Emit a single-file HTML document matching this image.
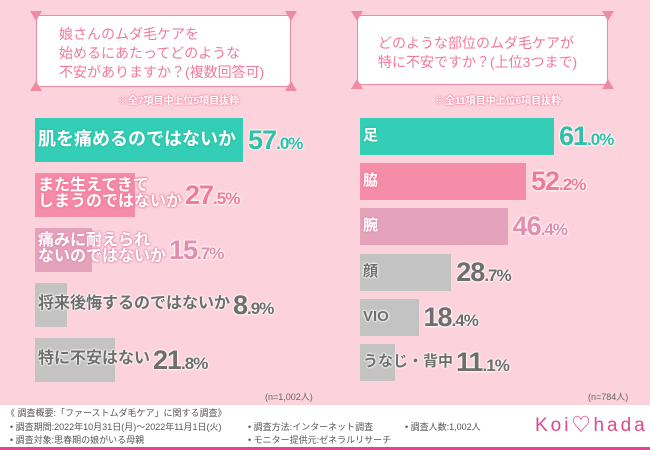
<!DOCTYPE html>
<html><head><meta charset="utf-8">
<style>
*{margin:0;padding:0;box-sizing:border-box}
body{width:650px;height:450px;overflow:hidden;background:#fcd3dc;font-family:"Liberation Sans","Noto Sans CJK JP",sans-serif;position:relative}
.abs{position:absolute}
.tbox{position:absolute;background:#fff;border:1.5px solid #f08aa4;color:#f07a99;font-size:14px;line-height:19px}
.tri{position:absolute;width:0;height:0}
.note{position:absolute;color:#fff;font-size:10px;font-weight:bold;text-shadow:0 0 2px #f08aa4,0 0 2px #f08aa4,0 0 1px #f08aa4}
.lab{position:absolute;font-weight:bold;white-space:nowrap;line-height:1}
.val{position:absolute;font-weight:bold;white-space:nowrap;line-height:1}
.ft{position:absolute;font-size:9px;color:#555;white-space:nowrap}
</style></head><body>
<div class="abs" style="left:0;top:405px;width:650px;height:45px;background:#fff"></div>
<div class="abs" style="left:0;top:447px;width:650px;height:3px;background:#e0478f"></div>

<div class="tbox" style="left:36px;top:15px;width:255px;height:72px;padding:9px 0 0 22px">娘さんのムダ毛ケアを<br>始めるにあたってどのような<br>不安がありますか？(複数回答可)</div>
<div class="tbox" style="left:357px;top:15px;width:251px;height:70px;padding:18px 0 0 20px;text-align:left">どのような部位のムダ毛ケアが<br>特に不安ですか？(上位3つまで)</div>
<div class="note" style="left:118px;top:92px">※全7項目中上位5項目抜粋</div>
<div class="note" style="left:435px;top:92px">※全11項目中上位6項目抜粋</div>
<div class="ft" style="left:265px;top:390px;color:#666">(n=1,002人)</div>
<div class="ft" style="left:588px;top:390px;color:#666">(n=784人)</div>

<div id="charts"></div>

<div class="ft" style="left:6px;top:406px">《 調査概要:「ファーストムダ毛ケア」に関する調査》</div>
<div class="ft" style="left:10px;top:420px">• 調査期間:2022年10月31日(月)～2022年11月1日(火)</div>
<div class="ft" style="left:10px;top:433px">• 調査対象:思春期の娘がいる母親</div>
<div class="ft" style="left:248px;top:420px">• 調査方法:インターネット調査</div>
<div class="ft" style="left:248px;top:433px">• モニター提供元:ゼネラルリサーチ</div>
<div class="ft" style="left:405px;top:420px">• 調査人数:1,002人</div>
<div class="abs" style="left:535px;top:410px;color:#e0478f;font-size:19px;letter-spacing:3px">Koi♡hada</div>

<script>
const leftCats=["肌を痛めるのではないか","また生えてきて\nしまうのではないか","痛みに耐えられ\nないのではないか","将来後悔するのではないか","特に不安はない"];
const leftVals=[57.0,27.5,15.7,8.9,21.8];
const rightCats=["足","脇","腕","顔","VIO","うなじ・背中"];
const rightVals=[61.0,52.2,46.4,28.7,18.4,11.1];
const colors=["#33ceb5","#f58ca8","#e4a3bb","#c3c3c3","#c3c3c3","#c3c3c3"];
const valColors=["#2fc0a8","#f07a99","#e08fae","#6e6e6e","#6e6e6e","#6e6e6e"];
const root=document.getElementById('charts');
function measure(t,fs){
  const m=document.createElement('span');
  m.style.cssText=`font-size:${fs}px;font-weight:bold;visibility:hidden;position:absolute;white-space:nowrap`;
  m.textContent=t;document.body.appendChild(m);const w=m.offsetWidth;m.remove();return w;
}
function draw(cats,vals,x0,y0,step,h,scale,fs,side){
  cats.forEach((c,i)=>{
    const y=y0+i*step, w=vals[i]*scale;
    const b=document.createElement('div');
    b.className='abs';
    
    
    b.style.cssText=`left:${x0}px;top:${y}px;width:${w}px;height:${h}px;background:${colors[i]}`;
    root.appendChild(b);
    const l=document.createElement('div');
    l.className='lab';
    
    
    const lines=c.split('\n');
    const two=lines.length>1;
    const lf=(side=='left'&&i>0)?16:fs;
    const white=i<3;
    const sc=white?valColors[i]:'#fff';
    l.style.cssText=`left:${x0+3}px;top:${y+h/2-(two?lf:lf/2)-1}px;font-size:${lf}px;line-height:${lf}px;color:${white?'#fff':'#6e6e6e'};text-shadow:0 0 2px ${sc},0 0 2px ${sc},0 0 2px ${sc}`;
    l.innerHTML=lines.join('<br>');
    root.appendChild(l);
    const tw=Math.max(...lines.map(s=>measure(s,lf)));
    const vx=Math.max(x0+w+5,x0+3+tw+3);
    const v=document.createElement('div');
    v.className='val';
    
    
    const p=vals[i].toFixed(1).split('.');
    const big=27;
    v.style.cssText=`left:${vx}px;top:${y+h/2-big/2}px;color:${valColors[i]};font-size:${big}px;letter-spacing:-1px;text-shadow:0 0 2px #fff,0 0 2px #fff,0 0 2px #fff`;
    v.innerHTML=p[0]+'<span style="font-size:17px">.'+p[1]+'%</span>';
    root.appendChild(v);
  });
}
draw(leftCats,leftVals,35,118,55,44,3.65,18,'left');
draw(rightCats,rightVals,360,118,45.2,37,3.18,15,'right');
[[36,15],[291,15],[36,87],[291,87],[357,15],[608,15],[357,85],[608,85]].forEach((p,i)=>{
  const t=document.createElement('div');
  t.className='tri';
  
  
  const top=(i%4)<2;
  t.style.cssText=`left:${p[0]-6}px;top:${top?p[1]-4:p[1]-6}px;border-left:6px solid transparent;border-right:6px solid transparent;${top?'border-top':'border-bottom'}:10px solid #f08aa4`;
  document.body.appendChild(t);
});
</script>
</body></html>
